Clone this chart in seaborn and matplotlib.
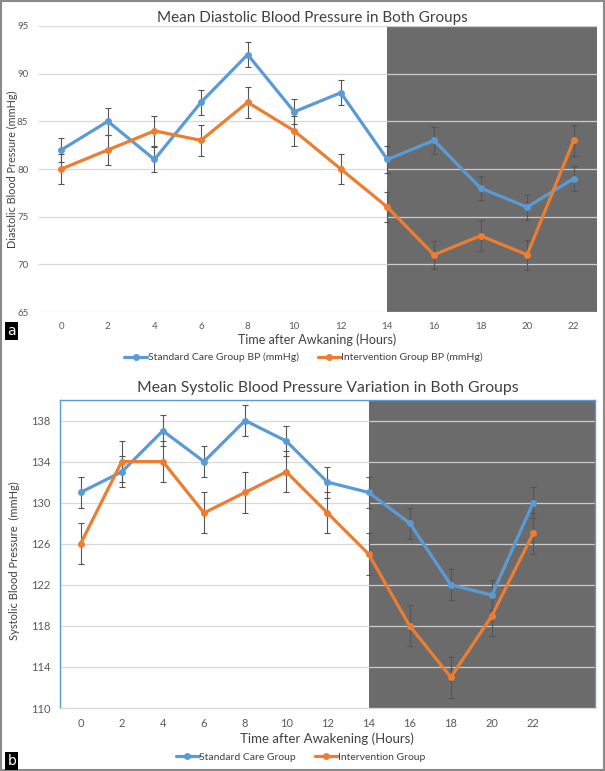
import numpy as np
import pandas as pd
import seaborn as sns
import matplotlib.pyplot as plt
from matplotlib.patches import Rectangle

# dados
hours = [0, 2, 4, 6, 8, 10, 12, 14, 16, 18, 20, 22]

dia_std = [82, 85, 81, 87, 92, 86, 88, 81, 83, 78, 76, 79]
dia_int = [80, 82, 84, 83, 87, 84, 80, 76, 71, 73, 71, 83]
dia_std_err = [1.3, 1.4, 1.3, 1.3, 1.3, 1.3, 1.3, 1.4, 1.4, 1.3, 1.3, 1.3]
dia_int_err = [1.6, 1.6, 1.6, 1.6, 1.6, 1.6, 1.6, 1.6, 1.5, 1.6, 1.6, 1.6]

sys_std = [131, 133, 137, 134, 138, 136, 132, 131, 128, 122, 121, 130]
sys_int = [126, 134, 134, 129, 131, 133, 129, 125, 118, 113, 119, 127]
sys_std_err = [1.5, 1.5, 1.5, 1.5, 1.5, 1.5, 1.5, 1.5, 1.5, 1.5, 1.5, 1.5]
sys_int_err = [2, 2, 2, 2, 2, 2, 2, 2, 2, 2, 2, 2]

dia_ticks = [65, 70, 75, 80, 85, 90, 95]
sys_ticks = [110, 114, 118, 122, 126, 130, 134, 138]

blue = '#5b9bd5'
orange = '#ed7d31'
shade = '#6b6b6b'

sns.set_style('white')
plt.rcParams['font.family'] = ['Lato', 'DejaVu Sans']

fig = plt.figure(figsize=(6.05, 7.71), dpi=100)
ax1 = fig.add_axes([0.0628, 0.5953, 0.924, 0.371])
ax2 = fig.add_axes([0.0992, 0.0817, 0.884, 0.3995])


def painel(ax, std, intv, std_err, int_err, ticks, xmax, ymax, names):
    df = pd.DataFrame({'hora': hours * 2,
                       'bp': std + intv,
                       'grupo': [names[0]] * len(hours) + [names[1]] * len(hours)})
    ax.axvspan(14, xmax, color=shade, zorder=0, lw=0)
    for t in ticks:
        ax.hlines(t, -1, 14, color='#d9d9d9', lw=0.9, zorder=1)
        ax.hlines(t, 14, xmax, color='#cccccc', lw=0.9, zorder=1)
    ax.errorbar(hours, std, yerr=std_err, fmt='none', ecolor='#555555',
                elinewidth=0.8, capsize=2.5, capthick=0.8, zorder=2)
    ax.errorbar(hours, intv, yerr=int_err, fmt='none', ecolor='#555555',
                elinewidth=0.8, capsize=2.5, capthick=0.8, zorder=2)
    sns.lineplot(data=df, x='hora', y='bp', hue='grupo',
                 palette=[blue, orange], marker='o', markersize=5,
                 markeredgewidth=0, linewidth=2.3, ax=ax, zorder=3)
    ax.set_xlim(-1, xmax)
    ax.set_ylim(ticks[0], ymax)
    ax.set_xticks(hours)
    ax.set_yticks(ticks)
    ax.tick_params(length=0, labelcolor='#595959')
    ax.legend(loc='upper center', ncol=2, frameon=False, handlelength=2.2,
              columnspacing=1.8, handletextpad=0.05, fontsize=7.5,
              labelcolor='#404040')


painel(ax1, dia_std, dia_int, dia_std_err, dia_int_err, dia_ticks, 23, 95,
       ['Standard Care Group BP (mmHg)', 'Intervention Group BP (mmHg)'])
for s in ax1.spines.values():
    s.set_visible(False)
ax1.tick_params(labelsize=7, pad=7)
ax1.set_xlabel('Time after Awkaning (Hours)', fontsize=9, color='#404040', labelpad=2)
ax1.set_ylabel('Diastolic Blood Pressure (mmHg)', fontsize=7.8, color='#404040')
ax1.yaxis.set_label_coords(-0.036, 0.5)
ax1.set_title('Mean Diastolic Blood Pressure in Both Groups', fontsize=11,
              color='#404040', pad=3, x=0.49)
ax1.get_legend().set_bbox_to_anchor((0.475, -0.11))

painel(ax2, sys_std, sys_int, sys_std_err, sys_int_err, sys_ticks, 25, 140,
       ['Standard Care Group', 'Intervention Group'])
for k in ['left', 'top', 'right']:
    ax2.spines[k].set_color(blue)
    ax2.spines[k].set_linewidth(1)
ax2.spines['bottom'].set_color('#d9d9d9')
ax2.tick_params(labelsize=8, pad=7)
ax2.set_xlabel('Time after Awakening (Hours)', fontsize=9.5, color='#404040', labelpad=3)
ax2.set_ylabel('Systolic Blood Pressure  (mmHg)', fontsize=8, color='#404040')
ax2.yaxis.set_label_coords(-0.075, 0.48)
ax2.set_title('Mean Systolic Blood Pressure Variation in Both Groups', fontsize=11.3,
              color='#404040', pad=6, x=0.5)
ax2.get_legend().set_bbox_to_anchor((0.45, -0.115))

# letras dos paineis
fig.text(0.012, 0.565, 'a', color='white', fontsize=10, family='DejaVu Sans',
         bbox=dict(facecolor='black', edgecolor='none', pad=1.5))
fig.text(0.012, 0.008, 'b', color='white', fontsize=10, family='DejaVu Sans',
         bbox=dict(facecolor='black', edgecolor='none', pad=1.5))

fig.patches.append(Rectangle((0.001, 0.001), 0.998, 0.998, transform=fig.transFigure,
                             fill=False, edgecolor='#8a8a8a', lw=1.5))

fig.savefig('out.png', dpi=100)
